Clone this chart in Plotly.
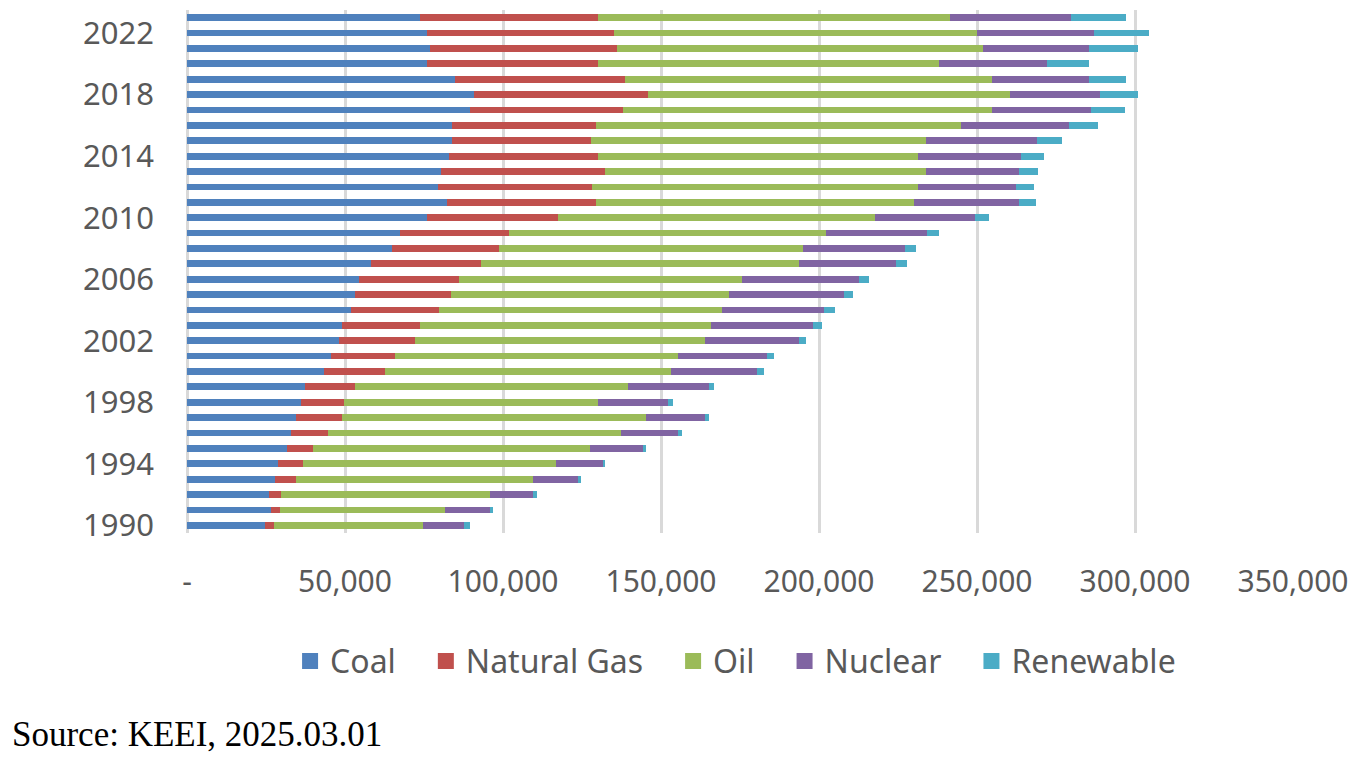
import plotly.graph_objects as go

years = [str(y) for y in range(1990, 2024)]

coal = [24700, 26500, 25900, 28000, 28700, 31600, 32800, 34400, 36200, 37300,
        43500, 45700, 48100, 49200, 52000, 53200, 54300, 58300, 65000, 67500,
        76000, 82200, 79400, 80500, 82800, 84000, 84000, 89700, 90700, 84900,
        76000, 77000, 76000, 73600]
natural_gas = [2900, 2800, 3900, 6400, 8000, 8400, 11800, 14800, 13600, 15800,
               19300, 20000, 23900, 24400, 27800, 30200, 31900, 34600, 33600, 34500,
               41500, 47200, 48900, 51800, 47200, 43700, 45400, 48300, 55300, 53600,
               54000, 59200, 59200, 56400]
oil = [47200, 52300, 66000, 75100, 80200, 87600, 92800, 96100, 80200, 86500,
       90400, 89800, 92000, 92200, 89500, 88100, 89300, 100800, 96300, 100200,
       100100, 100700, 103000, 101700, 101200, 106300, 115400, 116600, 114300, 116200,
       107900, 115600, 114700, 111400]
nuclear = [13000, 14200, 13700, 14300, 14700, 16600, 18100, 18700, 22200, 25700,
           27300, 27900, 29700, 32300, 32300, 36400, 37000, 30700, 32300, 32000,
           31900, 33100, 31100, 29200, 32600, 34900, 34400, 31500, 28600, 30800,
           34400, 33700, 37200, 38500]
renewable = [1700, 1100, 1100, 1000, 700, 1000, 1100, 1100, 1600, 1500,
             2200, 2200, 2200, 2900, 3500, 2900, 3200, 3400, 3400, 3800,
             4300, 5500, 5700, 6200, 7400, 7900, 9100, 10800, 12000, 11800,
             13100, 15400, 17200, 17400]

series_names = ["Coal", "Natural Gas", "Oil", "Nuclear", "Renewable"]
series_values = [coal, natural_gas, oil, nuclear, renewable]
colors = ["#4F81BD", "#C0504D", "#9BBB59", "#8064A2", "#4BACC6"]

x_tickvals = [0, 50000, 100000, 150000, 200000, 250000, 300000, 350000]
x_ticktext = ["-", "50,000", "100,000", "150,000", "200,000", "250,000", "300,000", "350,000"]
y_tickvals = [str(y) for y in range(1990, 2024, 4)]

fig = go.Figure()
for name, vals, col in zip(series_names, series_values, colors):
    fig.add_trace(go.Bar(
        y=years, x=vals, name=name, orientation="h",
        marker=dict(color=col, line=dict(width=0)),
        showlegend=False,
    ))

# legend entries (square swatches)
pad = "\u00a0\u00a0\u00a0"
for i, (name, col) in enumerate(zip(series_names, colors)):
    label = name + (pad if i < len(series_names) - 1 else "")
    fig.add_trace(go.Scatter(
        x=[None], y=[None], mode="markers", name=label,
        marker=dict(symbol="square", size=18, color=col),
        showlegend=True, hoverinfo="skip",
    ))

font_fam = "Noto Sans, Open Sans, sans-serif"
fig.update_layout(
    width=1359, height=751,
    barmode="stack", bargap=0.56,
    paper_bgcolor="white", plot_bgcolor="white",
    margin=dict(l=179, r=74, t=2, b=226),
    showlegend=True,
    legend=dict(orientation="h", x=0.496, xanchor="center", y=-0.245, yanchor="middle",
                font=dict(family=font_fam, size=32, color="#595959"),
                itemwidth=30, traceorder="normal"),
    xaxis=dict(range=[0, 350000], tickvals=x_tickvals, ticktext=x_ticktext,
               showgrid=True, gridcolor="#d9d9d9", gridwidth=2.5,
               zeroline=True, zerolinecolor="#d9d9d9", zerolinewidth=2.5,
               showline=False, ticks="",
               ticklabelstandoff=28,
               tickfont=dict(family=font_fam, size=30, color="#595959")),
    yaxis=dict(type="category", tickmode="array", tickvals=y_tickvals, ticktext=y_tickvals,
               showgrid=False, zeroline=False, showline=False, ticks="",
               ticklabelstandoff=32,
               tickfont=dict(family=font_fam, size=31, color="#595959")),
    annotations=[dict(text="Source: KEEI, 2025.03.01", xref="paper", yref="paper",
                      x=-0.16, xanchor="left", y=-0.386, yanchor="middle",
                      showarrow=False,
                      font=dict(family="Liberation Serif, Times New Roman, serif", size=35, color="black"))],
)

fig.write_html("out.html")
